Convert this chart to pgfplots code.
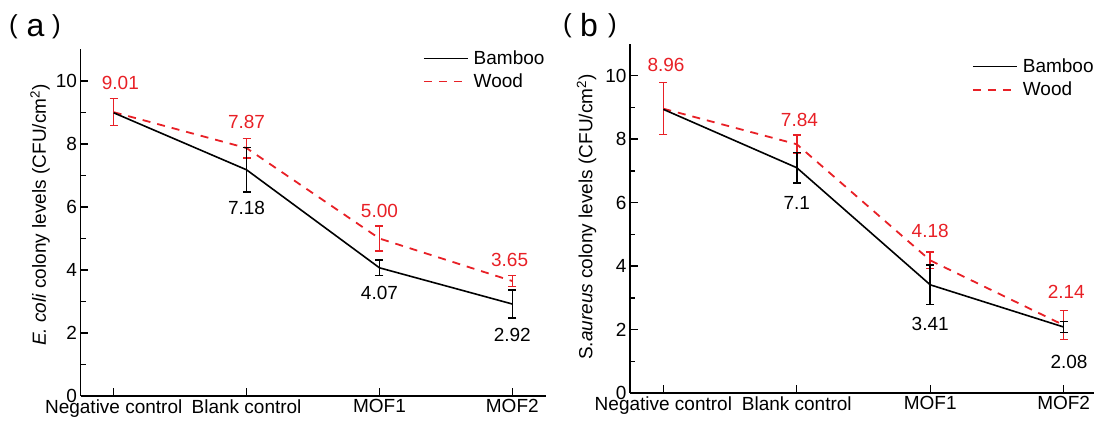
\documentclass[border=0pt]{standalone}
\usepackage{fontspec}
\setmainfont{Liberation Sans}
\usepackage{pgfplots}
\pgfplotsset{compat=1.18}
\usepackage{pgfplotstable}
\definecolor{wred}{RGB}{232,32,38}

\pgfplotstableread{
x y e
0 8.99 0
1 7.18 0.71
2 4.07 0.24
3 2.92 0.45
}\bambooA
\pgfplotstableread{
x y e
0 9.01 0.43
1 7.87 0.31
2 5.00 0.40
3 3.65 0.18
}\woodA
\pgfplotstableread{
x y e
0 8.94 0
1 7.10 0.48
2 3.41 0.62
3 2.08 0.18
}\bambooB
\pgfplotstableread{
x y e
0 8.96 0.82
1 7.84 0.29
2 4.18 0.26
3 2.14 0.46
}\woodB

\newcommand{\fs}{\fontsize{19}{22}\selectfont}

\pgfplotsset{
  panel/.style={
    scale only axis,
    anchor=south west,
    xmin=-0.25, xmax=3.25, ymin=0, ymax=11,
    axis x line=bottom, axis y line=left,
    axis line style={-, line width=1.5pt, black},
    tick align=inside,
    xtick={0,1,2,3},
    xticklabels={Negative control, Blank control, MOF1, MOF2},
    ytick={0,2,4,6,8,10},
    minor ytick={1,3,5,7,9},
    major tick length=7.5pt, minor tick length=5pt,
    tick style={black, line width=1.4pt},
    tick label style={font=\fs},
    label style={font=\fs},
    /pgf/number format/assume math mode=true,
    legend style={draw=none, fill=none, anchor=north west, font=\fs,
      inner sep=0pt, row sep=6pt,
      nodes={inner sep=1pt},
      /tikz/every odd column/.append style={column sep=4pt}},
    legend cell align=left,
    reverse legend,
    clip=false,
  },
  bamboo/.style={black, line width=1.6pt},
  wood/.style={wred, line width=1.8pt, dash pattern=on 8pt off 7pt},
  ebarsW/.style={error bars/.cd, y dir=both, y explicit,
    error bar style={wred, solid, line width=1.5pt},
    error mark options={wred, solid, line width=1.5pt, mark size=4pt, rotate=90}},
  ebarsB/.style={error bars/.cd, y dir=both, y explicit,
    error bar style={draw=black, solid, line width=1.5pt},
    error mark options={draw=black, solid, line width=1.5pt, mark size=4pt, rotate=90}},
}

\begin{document}
\begin{tikzpicture}
\useasboundingbox (0,0) rectangle (1094pt,420pt);

% panel labels
\node[inner sep=0pt, font=\fontsize{26}{26}\selectfont] at (13.5pt,393.5pt) {(};
\node[inner sep=0pt, font=\fontsize{32}{32}\selectfont] at (35.5pt,391.5pt) {a};
\node[inner sep=0pt, font=\fontsize{26}{26}\selectfont] at (56.5pt,393.5pt) {)};
\node[inner sep=0pt, font=\fontsize{26}{26}\selectfont] at (567.5pt,394pt) {(};
\node[inner sep=0pt, font=\fontsize{32}{32}\selectfont] at (589pt,395pt) {b};
\node[inner sep=0pt, font=\fontsize{26}{26}\selectfont] at (612.5pt,394pt) {)};

\begin{axis}[panel, at={(80.5pt,24pt)}, width=465pt, height=346.5pt,
  ylabel={\textit{E. coli} colony levels (CFU/cm\textsuperscript{2})},
  ylabel style={at={(axis description cs:-0.087,0.522)}, anchor=center},
  legend style={at={(axis description cs:0.736,1.0)}},
  legend image code/.code={\draw[#1] (0pt,0pt) -- (44pt,0pt);},
]
\addplot[wood, ebarsW] table[x=x, y=y, y error=e] {\woodA};
\addlegendentry{Wood}
\addplot[black, draw=none, forget plot, skip coords between index={0}{1}, ebarsB]
  table[x=x, y=y, y error=e] {\bambooA};
\addplot[bamboo] table[x=x, y=y] {\bambooA};
\addlegendentry{Bamboo}
\node[wred, font=\fs] at (axis cs:0.05,9.95) {9.01};
\node[wred, font=\fs] at (axis cs:1,8.71) {7.87};
\node[wred, font=\fs] at (axis cs:2,5.88) {5.00};
\node[wred, font=\fs] at (axis cs:2.98,4.32) {3.65};
\node[black, font=\fs] at (axis cs:1,5.96) {7.18};
\node[black, font=\fs] at (axis cs:2,3.26) {4.07};
\node[black, font=\fs] at (axis cs:3,1.94) {2.92};
\end{axis}

\begin{axis}[panel, at={(630pt,27pt)}, width=467pt, height=349pt,
  ylabel={S.\textit{aureus} colony levels (CFU/cm\textsuperscript{2})},
  ylabel style={at={(axis description cs:-0.093,0.504)}, anchor=center},
  legend style={at={(axis description cs:0.732,0.961)}},
  legend image code/.code={\draw[#1] (0pt,0pt) -- (44pt,0pt);},
]
\addplot[wood, ebarsW] table[x=x, y=y, y error=e] {\woodB};
\addlegendentry{Wood}
\addplot[black, draw=none, forget plot, skip coords between index={0}{1}, ebarsB]
  table[x=x, y=y, y error=e] {\bambooB};
\addplot[bamboo] table[x=x, y=y] {\bambooB};
\addlegendentry{Bamboo}
\node[wred, font=\fs] at (axis cs:0.02,10.35) {8.96};
\node[wred, font=\fs] at (axis cs:1.02,8.61) {7.84};
\node[wred, font=\fs] at (axis cs:2,5.12) {4.18};
\node[wred, font=\fs] at (axis cs:3.02,3.20) {2.14};
\node[black, font=\fs] at (axis cs:1,5.98) {7.1};
\node[black, font=\fs] at (axis cs:2,2.18) {3.41};
\node[black, font=\fs] at (axis cs:3.04,0.99) {2.08};
\end{axis}
\end{tikzpicture}
\end{document}
